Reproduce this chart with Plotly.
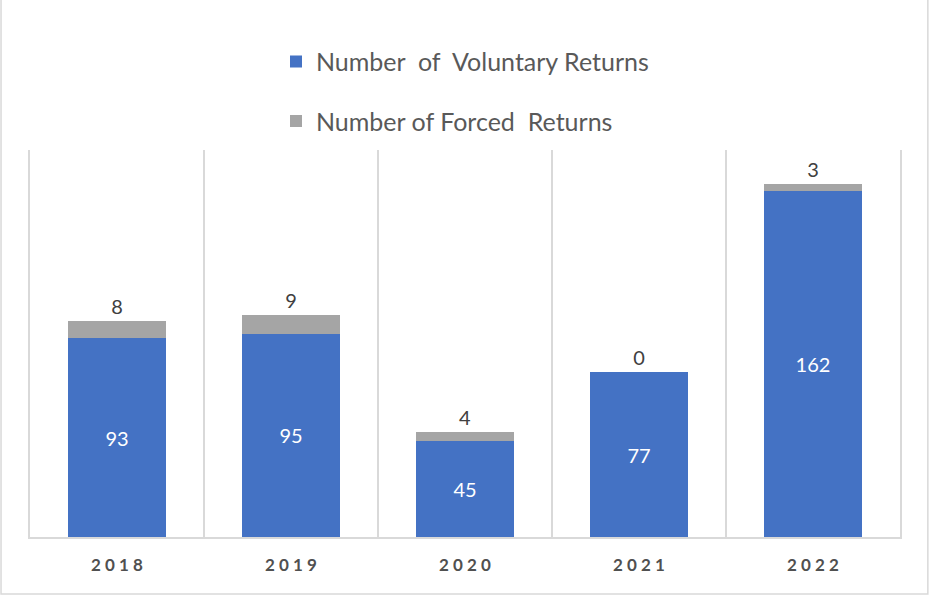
import plotly.graph_objects as go

years = ["2018", "2019", "2020", "2021", "2022"]
voluntary = [93, 95, 45, 77, 162]
forced = [8, 9, 4, 0, 3]

font_family = "Lato, 'Open Sans', sans-serif"
tick_text = [" ".join(y) for y in years]

fig = go.Figure()
fig.add_trace(go.Bar(
    x=years, y=voluntary, name="Number  of  Voluntary Returns",
    marker=dict(color="#4472C4", line=dict(width=0)),
    text=voluntary, textposition="inside", insidetextanchor="middle",
    textfont=dict(color="white", size=20, family=font_family),
    legendgroup="v",
))
fig.add_trace(go.Bar(
    x=years, y=forced, name="Number of Forced  Returns",
    marker=dict(color="#A5A5A5", line=dict(width=0)),
    text=forced, textposition="outside",
    textfont=dict(color="#404040", size=20, family=font_family),
    cliponaxis=False, legendgroup="f",
))

fig.update_layout(
    width=930, height=596,
    barmode="stack", bargap=0.44,
    plot_bgcolor="white", paper_bgcolor="white",
    margin=dict(l=30, r=30, t=150, b=59),
    font=dict(family=font_family, color="#595959"),
    legend=dict(
        orientation="v", x=0.5, xanchor="center", y=1.016, yanchor="bottom",
        traceorder="grouped", tracegroupgap=24,
        font=dict(size=25, color="#595959", family=font_family),
        itemwidth=30,
    ),
    shapes=[dict(type="rect", xref="paper", yref="paper", x0=-0.0333, x1=1.032, y0=-0.147, y1=1.6,
                 line=dict(color="#D9D9D9", width=1.5), layer="below")],
)
fig.update_xaxes(
    type="category", tickson="boundaries", showgrid=True, gridcolor="#D9D9D9", gridwidth=1.5,
    ticks="", showline=True, linecolor="#D9D9D9", linewidth=1.5,
    tickmode="array", tickvals=years, ticktext=tick_text,
    tickfont=dict(size=17, color="#505050", family=font_family, weight="bold"),
    ticklabelstandoff=12,
)
fig.update_yaxes(range=[0, 181], showgrid=False, showticklabels=False, zeroline=False,
                 showline=True, mirror=True, linecolor="#D9D9D9", linewidth=1.5)

fig.write_html("out.html", config={"displayModeBar": False},
               post_script="document.body.style.margin='0';")
